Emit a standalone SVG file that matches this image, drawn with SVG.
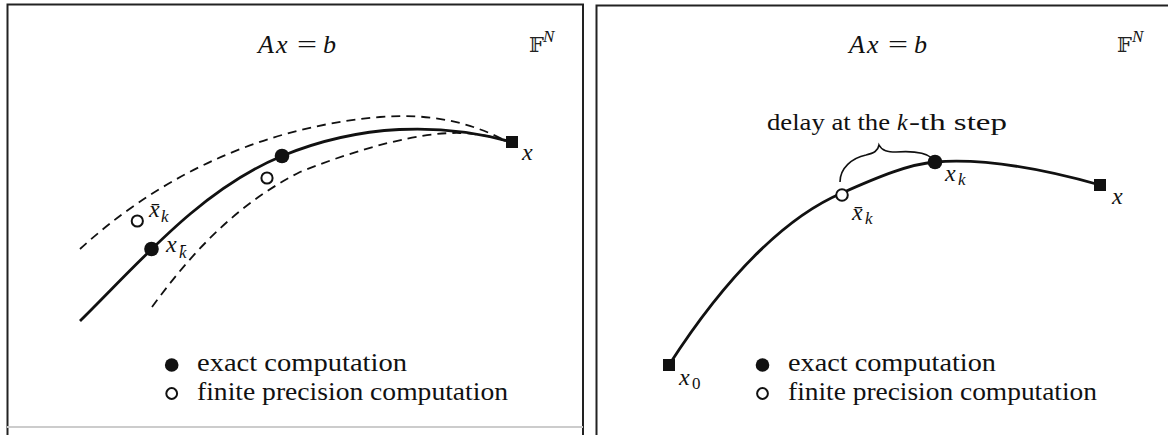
<svg xmlns="http://www.w3.org/2000/svg" width="1168" height="435" viewBox="0 0 1168 435" font-family="Liberation Serif, serif">
<style>
.frame{fill:none;stroke:#222;stroke-width:2}
.curve{fill:none;stroke:#111;stroke-width:2.8}
.dash{fill:none;stroke:#111;stroke-width:1.8;stroke-dasharray:9 6}
.brace{fill:none;stroke:#111;stroke-width:1.6}
.dot{fill:#111}
.odot{fill:#fff;stroke:#111;stroke-width:2}
.sq{fill:#111}
</style>
<rect width="1168" height="435" fill="#fff"/>
<g id="frames">
<path class="frame" d="M7.5,435 V4.5 H583 V435"/>
<line x1="7" y1="427" x2="583" y2="427" stroke="#ccc" stroke-width="2"/>
<path class="frame" d="M596.5,435 V5.5 H1168"/>
</g>
<g id="connectors">
<path class="dash" d="M80,249 C150,185 250,128 380,117 C430,113 470,122 506,141"/>
<path class="dash" d="M152,307 C190,255 235,205 300,172 C360,148 420,132 460,133 C480,134 495,137 506,141"/>
<path class="curve" d="M80,321 C140,262 200,190 282,156 C360,124 440,122 512,142"/>
<path class="curve" d="M669,365 C730,270 790,215 842,193 C880,176 910,164 935,162 C985,158 1040,168 1100,185"/>
<path class="brace" d="M840,182 C840,168 852,158 866,155 C874,153 878,151 879,145 C882,151 888,152 896,152 C910,151 925,152 932,158"/>
</g>
<g id="left-title">
<text font-family="Liberation Serif" font-style="italic" fill="#111" x="258" y="53" font-size="26">A</text>
<text font-family="Liberation Serif" font-style="italic" fill="#111" x="276" y="53" font-size="26">x</text>
<text font-family="Liberation Serif" fill="#111" x="297" y="53" font-size="26" textLength="20" lengthAdjust="spacingAndGlyphs">=</text>
<text font-family="Liberation Serif" font-style="italic" fill="#111" x="323" y="53" font-size="26">b</text>
<text font-family="DejaVu Serif" fill="#222" x="529" y="52" font-size="21">𝔽</text>
<text font-family="Liberation Serif" font-style="italic" fill="#111" x="543" y="42" font-size="17">N</text>
</g>
<g id="left-x"><rect class="sq" x="506" y="136" width="12" height="12"/><text font-family="Liberation Serif" font-style="italic" fill="#111" x="522" y="160" font-size="24">x</text></g>
<g id="left-xk"><circle class="dot" cx="151.5" cy="249" r="7.3"/><text font-family="Liberation Serif" font-style="italic" fill="#111" x="166" y="252" font-size="24">x</text><text font-family="Liberation Serif" font-style="italic" fill="#111" x="179" y="258" font-size="17">k̄</text></g>
<g id="left-xk2"><circle class="dot" cx="282" cy="156" r="7.3"/></g>
<g id="left-xbark"><circle class="odot" cx="137.3" cy="221" r="5.6"/><text font-family="Liberation Serif" font-style="italic" fill="#111" x="149" y="217" font-size="24">x̄</text><text font-family="Liberation Serif" font-style="italic" fill="#111" x="161" y="222" font-size="17">k</text></g>
<g id="left-xbar2"><circle class="odot" cx="267" cy="178" r="5.6"/></g>
<g id="left-legend">
<circle class="dot" cx="171.7" cy="365" r="6.8"/>
<text font-family="Liberation Serif" fill="#111" x="197" y="371" font-size="25" textLength="210" lengthAdjust="spacingAndGlyphs">exact computation</text>
<circle class="odot" cx="171.7" cy="393.5" r="5.4"/>
<text font-family="Liberation Serif" fill="#111" x="197" y="400" font-size="25" textLength="311" lengthAdjust="spacingAndGlyphs">finite precision computation</text>
</g>
<g id="right-title">
<text font-family="Liberation Serif" font-style="italic" fill="#111" x="849" y="53" font-size="26">A</text>
<text font-family="Liberation Serif" font-style="italic" fill="#111" x="867" y="53" font-size="26">x</text>
<text font-family="Liberation Serif" fill="#111" x="888" y="53" font-size="26" textLength="20" lengthAdjust="spacingAndGlyphs">=</text>
<text font-family="Liberation Serif" font-style="italic" fill="#111" x="914" y="53" font-size="26">b</text>
<text font-family="DejaVu Serif" fill="#222" x="1117" y="52" font-size="21">𝔽</text>
<text font-family="Liberation Serif" font-style="italic" fill="#111" x="1132" y="42" font-size="17">N</text>
</g>
<g id="right-delay">
<text font-family="Liberation Serif" fill="#111" x="767" y="130" font-size="24" textLength="123" lengthAdjust="spacingAndGlyphs">delay at the</text>
<text font-family="Liberation Serif" font-style="italic" fill="#111" x="897" y="130" font-size="24">k</text>
<text font-family="Liberation Serif" fill="#111" x="909" y="130" font-size="24" textLength="98" lengthAdjust="spacingAndGlyphs">-th step</text>
</g>
<g id="right-x0"><rect class="sq" x="663" y="359" width="12" height="12"/><text font-family="Liberation Serif" font-style="italic" fill="#111" x="679" y="385" font-size="24">x</text><text font-family="Liberation Serif" fill="#111" x="692" y="389" font-size="17">0</text></g>
<g id="right-xbark"><circle class="odot" cx="842" cy="195" r="5.8"/><text font-family="Liberation Serif" font-style="italic" fill="#111" x="852" y="220" font-size="24">x̄</text><text font-family="Liberation Serif" font-style="italic" fill="#111" x="865" y="224" font-size="17">k</text></g>
<g id="right-xk"><circle class="dot" cx="935" cy="162" r="7.3"/><text font-family="Liberation Serif" font-style="italic" fill="#111" x="945" y="181" font-size="24">x</text><text font-family="Liberation Serif" font-style="italic" fill="#111" x="958" y="185" font-size="17">k</text></g>
<g id="right-x"><rect class="sq" x="1094" y="179" width="12" height="12"/><text font-family="Liberation Serif" font-style="italic" fill="#111" x="1112" y="204" font-size="24">x</text></g>
<g id="right-legend">
<circle class="dot" cx="762.5" cy="365" r="6.8"/>
<text font-family="Liberation Serif" fill="#111" x="788" y="371" font-size="25" textLength="208" lengthAdjust="spacingAndGlyphs">exact computation</text>
<circle class="odot" cx="762.5" cy="393.5" r="5.4"/>
<text font-family="Liberation Serif" fill="#111" x="788" y="400" font-size="25" textLength="309" lengthAdjust="spacingAndGlyphs">finite precision computation</text>
</g>
</svg>
